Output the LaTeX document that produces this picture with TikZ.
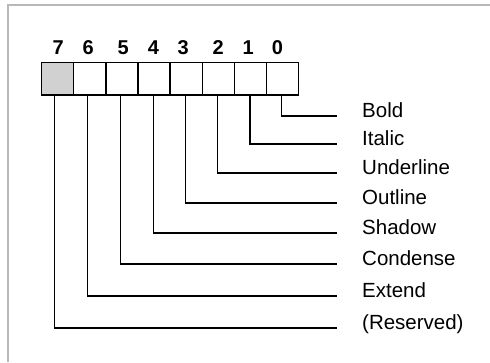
\documentclass[tikz,border=0pt]{standalone}
\usepackage{fontspec}
\setmainfont{Liberation Sans}
\begin{document}
\begin{tikzpicture}[x=1pt,y=-1pt,
 cell/.style={draw, line width=1.3pt, minimum width=32.1pt, minimum height=32.3pt, inner sep=0pt, outer sep=0pt},
 bitnum/.style={font=\fontsize{20}{22}\selectfont\bfseries, inner sep=0pt},
 lbl/.style={font=\fontsize{20.5}{24}\selectfont, anchor=base west, inner sep=0pt},
 conn/.style={line width=1.3pt},
 frame/.style={draw=black!28, line width=2pt}]
\useasboundingbox (0,0) rectangle (490,362);
\draw[frame] (8,362) -- (8,5) -- (490,5);
% cells
\foreach \i in {7,...,0}{
  \node[cell] (c\i) at ({57.75+32.1*(7-\i)},78.85) {};
}
\fill[black!18] ([shift={(0.65pt,-0.65pt)}]c7.north west) rectangle ([shift={(-0.65pt,0.65pt)}]c7.south east);
\node[cell] at (c7) {};
% bit numbers
\node[bitnum] (n7) at (58.3,48) {7};
\node[bitnum] (n6) at (88.2,48) {6};
\node[bitnum] (n5) at (123.3,48) {5};
\node[bitnum] (n4) at (153.5,48) {4};
\node[bitnum] (n3) at (183.2,48) {3};
\node[bitnum] (n2) at (218.3,48) {2};
\node[bitnum] (n1) at (248.3,48) {1};
\node[bitnum] (n0) at (277.5,48) {0};
% labels and connector ends
\foreach \i/\y/\x/\t in {0/116/281.7/Bold,1/144/250/Italic,2/173/217.3/Underline,3/203/185.7/Outline,4/233/153.3/Shadow,5/264/120.7/Condense,6/296/87.7/Extend,7/328/54.3/(Reserved)}{
  \coordinate (e\i) at (337,\y);
  \node[lbl] (l\i) at (362,{\y+1}) {\t};
  \draw[conn] (\x,0 |- c\i.south) |- (e\i);
}
\end{tikzpicture}
\end{document}
